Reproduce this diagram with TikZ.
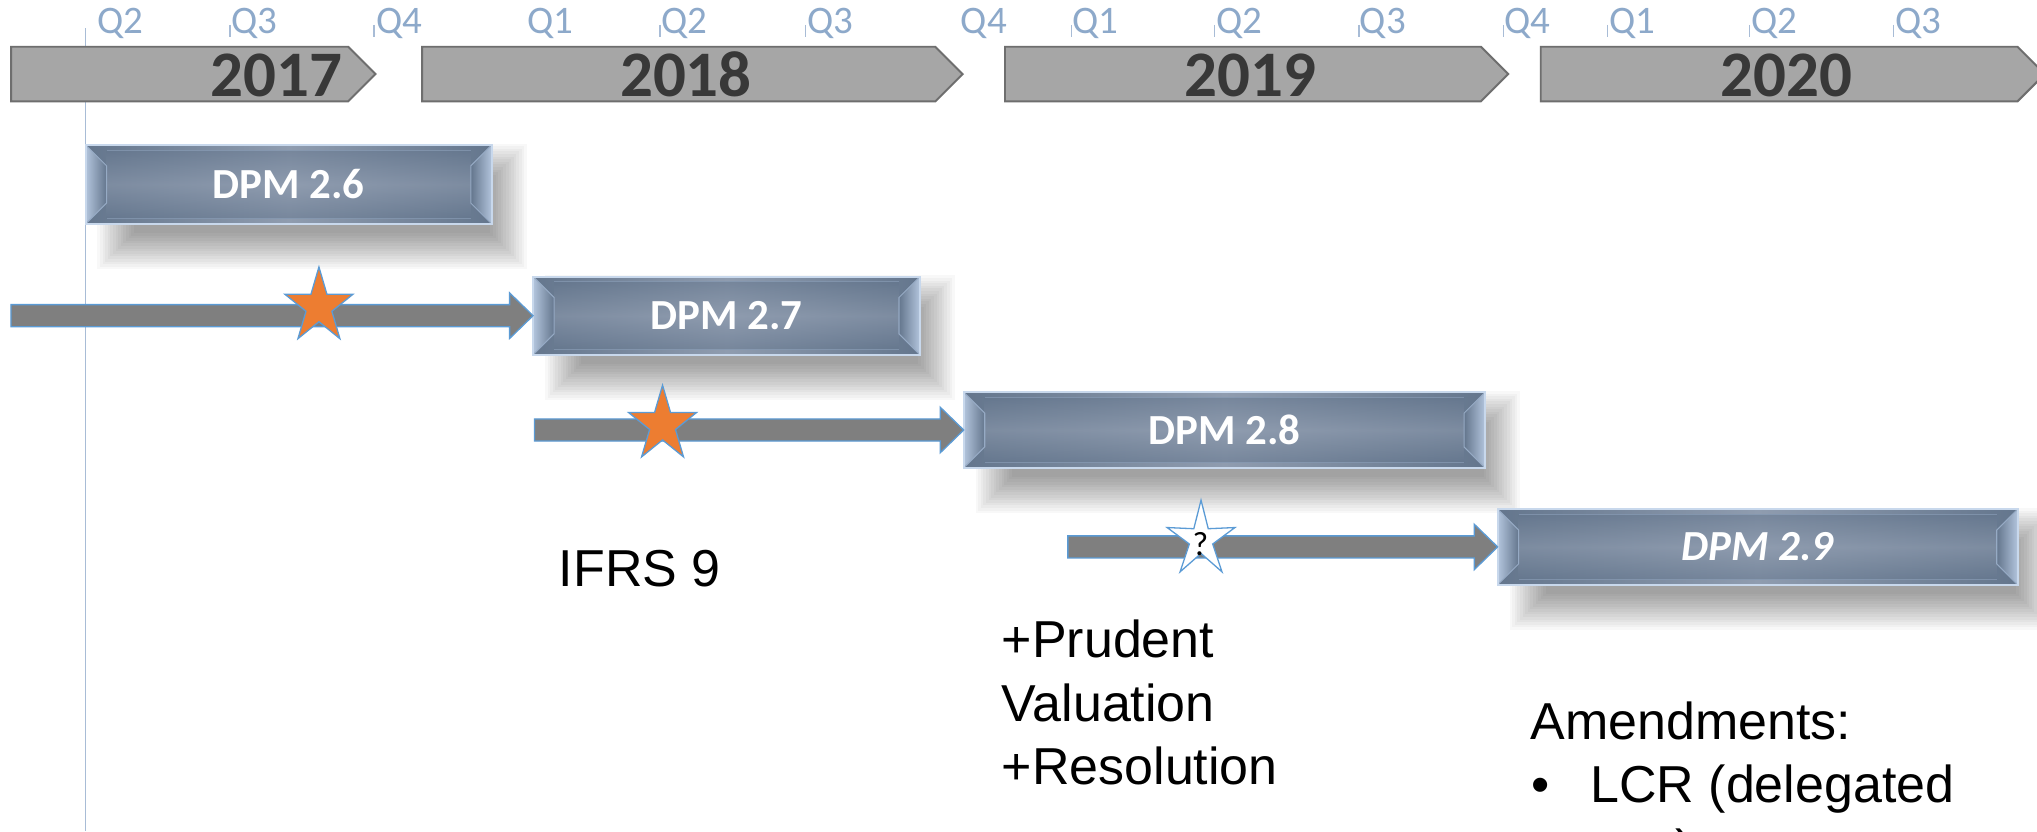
\documentclass[tikz,border=0pt]{standalone}
\usepackage{fontspec}
\setmainfont{Liberation Sans}
\newfontfamily\calibri{Carlito}
\usetikzlibrary{shapes.geometric,calc}

\definecolor{qblue}{RGB}{141,169,202}
\definecolor{tickblue}{RGB}{168,188,214}
\definecolor{bargray}{RGB}{166,166,166}
\definecolor{baredge}{RGB}{110,110,110}
\definecolor{yeardark}{RGB}{56,56,56}
\definecolor{faceedge}{RGB}{100,118,141}
\definecolor{facemid}{RGB}{143,156,175}
\definecolor{bevlight}{RGB}{178,196,220}
\definecolor{bevline}{RGB}{150,170,196}
\definecolor{boxrim}{RGB}{200,216,236}
\definecolor{arrowgray}{RGB}{127,127,127}
\definecolor{arrowedge}{RGB}{91,155,213}
\definecolor{starorange}{RGB}{237,125,49}

\tikzset{
  quarter/.style={font=\calibri\fontsize{30}{36}\selectfont, text=qblue, anchor=base west, inner sep=0pt},
  qtick/.style={draw=tickblue, line width=1pt},
  yearbar/.style={fill=bargray, draw=baredge, line width=1.5pt},
  yearlabel/.style={font=\calibri\bfseries\fontsize{50}{60}\selectfont, text=yeardark, anchor=base, inner sep=0pt},
  dpmlabel/.style={font=\calibri\bfseries\fontsize{33}{39}\selectfont, text=white, inner sep=0pt, rectangle},
  bevelline/.style={draw=bevline, line width=0.8pt},
  boxrimline/.style={draw=boxrim, line width=1.5pt},
  blocktail/.style={fill=arrowgray, draw=arrowedge, line width=1pt},
  milestone/.style={star, star points=5, star point ratio=2.618, minimum size=61pt,
    inner sep=0pt, xscale=0.9, draw=arrowedge, line width=1pt},
  note/.style={font=\fontsize{40}{49}\selectfont, anchor=base west, inner sep=0pt},
}

% bevelled release box with a soft drop shadow: name, x1, y1, x2, y2, label
\newcommand\dpmbox[6]{%
  \foreach \k in {0,...,14}{%
    \fill[black, opacity=0.028] ({#2+9+2*\k},{#3-1+2*\k}) rectangle ({#4+27-2*\k},{#5+35-2*\k});
  }%
  \shade[left color=faceedge, right color=faceedge, middle color=facemid] (#2,#3) rectangle (#4,#5);
  \shade[top color=faceedge, bottom color=faceedge, middle color=facemid, opacity=0.55]
    ({#2+16},{#3+4}) rectangle ({#4-16},{#5-4});
  \shade[left color=bevlight, right color=faceedge] (#2,#3) -- ({#2+16},{#3+16}) -- ({#2+16},{#5-16}) -- (#2,#5) -- cycle;
  \shade[left color=faceedge, right color=bevlight] (#4,#3) -- ({#4-16},{#3+16}) -- ({#4-16},{#5-16}) -- (#4,#5) -- cycle;
  \draw[bevelline] (#2,#3) -- ({#2+16},{#3+16}) -- ({#2+16},{#5-16}) -- (#2,#5);
  \draw[bevelline] (#4,#3) -- ({#4-16},{#3+16}) -- ({#4-16},{#5-16}) -- (#4,#5);
  \draw[bevelline, opacity=0.5] ({#2+16},{#3+4}) -- ({#4-16},{#3+4});
  \draw[bevelline, opacity=0.5] ({#2+16},{#5-4}) -- ({#4-16},{#5-4});
  \draw[boxrimline] (#2,#3) rectangle (#4,#5);
  \node[dpmlabel, minimum width={(#4-#2)*1pt}, minimum height={(#5-#3)*1pt}] (#1)
    at ({(#2+#4)/2},{(#3+#5)/2}) {#6};
}

% thick block arrow from a tail coordinate to the west side of a box
\newcommand\blockarrow[2]{%
  \draw[blocktail] let \p1=(#1), \p2=(#2) in
    (\x1,{\y1+8.5pt}) -- ({\x2-18pt},{\y1+8.5pt}) -- ({\x2-18pt},{\y1+17.5pt}) -- (\x2,\y1)
    -- ({\x2-18pt},{\y1-17.5pt}) -- ({\x2-18pt},{\y1-8.5pt}) -- (\x1,{\y1-8.5pt}) -- cycle;
}

\begin{document}
\begin{tikzpicture}[x=1pt, y=-1pt]
\useasboundingbox (0,0) rectangle (1568,640);
\clip (0,0) rectangle (1568,640);
\fill[white] (0,0) rectangle (1568,640);

% start marker line
\draw[qtick] (66,21.8) -- (66,640);

% year bars
\draw[yearbar] (8.6,36) -- (268,36) -- (289,57) -- (268,78) -- (8.6,78) -- cycle;
\draw[yearbar] (325,36) -- (720,36) -- (741,57) -- (720,78) -- (325,78) -- cycle;
\draw[yearbar] (773.6,36) -- (1140,36) -- (1161,57) -- (1140,78) -- (773.6,78) -- cycle;
\draw[yearbar] (1186,36) -- (1553,36) -- (1574,57) -- (1553,78) -- (1186,78) -- cycle;
\node[yearlabel] (y17) at (213,74.4) {2017};
\node[yearlabel] (y18) at (528,74.4) {2018};
\node[yearlabel] (y19) at (962.5,74.4) {2019};
\node[yearlabel] (y20) at (1375,74.4) {2020};

% quarter ticks and labels
\foreach \t in {177,288,508,620,825,935,1046,1157.3,1237.6,1346.8,1457.5}{
  \draw[qtick] (\t,19.2) -- (\t,28.2);
}
\foreach \qx/\qt [count=\i] in {74.5/Q2,178/Q3,289.5/Q4,405.5/Q1,509/Q2,621/Q3,739.5/Q4,825.5/Q1,936/Q2,1046.5/Q3,1158/Q4,1238.6/Q1,1347.8/Q2,1459/Q3}{
  \node[quarter] (q\i) at (\qx,25.6) {\qt};
}

% release boxes
\dpmbox{d26}{66}{111.6}{378.5}{172.4}{DPM 2.6}
\dpmbox{d27}{410.5}{213}{708}{273}{DPM 2.7}
\dpmbox{d28}{742}{302}{1143}{360}{DPM 2.8}
\dpmbox{d29}{1153}{392}{1553}{450}{\itshape DPM 2.9}

% transition arrows
\coordinate (t27) at (8.4,243);
\coordinate (t28) at (411.5,331);
\coordinate (t29) at (822,421);
\blockarrow{t27}{d27.west}
\blockarrow{t28}{d28.west}
\blockarrow{t29}{d29.west}

% milestones
\node[milestone, fill=starorange] (m1) at (245.5,236) {};
\node[milestone, fill=starorange] (m2) at (510,327) {};
\node[milestone, fill=white, star point ratio=2.9] (m3) at (924.5,415.5) {};
\node[font=\calibri\fontsize{26}{30}\selectfont, inner sep=0pt] (m3q) at (924,419) {?};

% notes
\node[note] (n1) at (430,451.6) {IFRS 9};
\node[note] (n2a) at (771,505.8) {+Prudent};
\node[note] (n2b) at (771,555.5) {Valuation};
\node[note] (n2c) at (771,604) {+Resolution};
\node[note] (n3) at (1178,569) {Amendments:};
\node[note] (n3b) at (1179,618) {\textbullet};
\node[note] (n3c) at (1224,618) {LCR (delegated};
\node[note] (n3d) at (1236,667) {act)};
\end{tikzpicture}
\end{document}
